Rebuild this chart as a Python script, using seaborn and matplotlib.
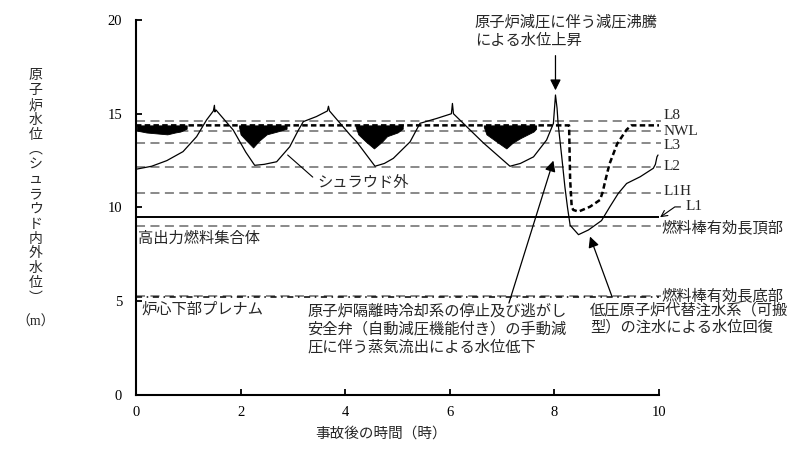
import matplotlib
matplotlib.use("Agg")
import matplotlib.pyplot as plt
import pandas as pd
import seaborn as sns

# ---------------- data ----------------
# shroud outside water level (thin solid line)
outer_t = [0.02, 0.3, 0.59, 0.9, 1.16, 1.35, 1.48, 1.50, 1.51, 1.53, 1.86, 2.10, 2.27,
           2.45, 2.69, 2.94, 3.10, 3.20, 3.45, 3.66, 3.68, 3.70, 4.10, 4.22, 4.57,
           4.75, 4.92, 5.24, 5.43, 5.75, 6.03, 6.05, 6.07, 6.40, 6.64, 7.15,
           7.35, 7.60, 7.85, 7.98, 8.02, 8.05, 8.07, 8.14, 8.20, 8.25, 8.30, 8.46,
           8.65, 8.90, 9.06, 9.22, 9.38, 9.64, 9.89, 9.93, 9.96, 9.98]
outer_v = [12.05, 12.2, 12.5, 12.98, 13.78, 14.67, 15.15, 15.45, 15.1, 15.2, 14.13, 12.95, 12.25,
           12.3, 12.44, 13.24, 14.1, 14.58, 14.85, 15.15, 15.4, 15.15, 13.85, 13.5, 12.2,
           12.35, 12.62, 13.5, 14.49, 14.75, 15.0, 15.55, 15.0, 14.1, 13.45, 12.2,
           12.35, 12.7, 13.6, 14.48, 16.0, 15.3, 14.48, 12.7, 11.1, 10.0, 9.05, 8.55,
           8.8, 9.3, 10.04, 10.75, 11.28, 11.64, 12.09, 12.3, 12.7, 12.8]

# shroud inside water level (thick dashed line)
inner_t = [0.0, 8.28, 8.30, 8.33, 8.36, 8.46, 8.68, 8.87, 8.92, 8.97, 9.05, 9.20, 9.38, 9.47, 10.0]
inner_v = [14.38, 14.38, 11.5, 10.04, 9.87, 9.78, 10.04, 10.4, 10.8, 11.4, 12.3, 13.4, 14.15, 14.38, 14.38]

# fluctuating band of the inside level (envelopes)
bandA_t = [0.02, 0.2, 0.4, 0.6, 0.75, 0.85, 0.97]
bandA_lo = [14.1, 14.0, 13.95, 13.9, 14.0, 14.05, 14.2]
bandB_t = [1.97, 2.0, 2.1, 2.24, 2.35, 2.5, 2.7, 2.88]
bandB_lo = [14.3, 13.9, 13.6, 13.2, 13.55, 13.9, 14.05, 14.2]
bandC_t = [4.2, 4.25, 4.4, 4.55, 4.7, 4.8, 5.0, 5.1]
bandC_lo = [14.3, 13.9, 13.5, 13.15, 13.5, 13.8, 14.0, 14.2]
bandD_t = [6.65, 6.7, 6.9, 7.08, 7.2, 7.35, 7.6, 7.65]
bandD_lo = [14.3, 13.9, 13.5, 13.15, 13.45, 13.7, 14.05, 14.2]
band_top = 14.38

# reference levels (gray dashed)
ref_levels = [14.6, 14.08, 13.42, 12.14, 10.75, 9.0, 5.3]
ref_names = ["L8", "NWL", "L3", "L2", "L1H", "燃料棒有効長頂部", "燃料棒有効長底部"]
l1_level = 9.48
plenum_level = 5.2

x_ticks = [0, 2, 4, 6, 8, 10]
y_ticks = [0, 5, 10, 15, 20]

# ---------------- style ----------------
sns.set_theme(style="ticks")
plt.rcParams['font.family'] = ['Liberation Serif', 'Noto Sans CJK JP']
plt.rcParams['axes.unicode_minus'] = False

fig = plt.figure(figsize=(7.95, 4.55), dpi=100)
ax = fig.add_axes([0.171, 0.132, 0.658, 0.824])

GRAY = "#808080"
# reference lines
for lv in ref_levels:
    ax.plot([0, 10.03], [lv, lv], color=GRAY, lw=1.3, dashes=(5, 3), clip_on=False, zorder=1)
ax.plot([0, 10.0], [l1_level, l1_level], color="black", lw=1.4, zorder=2)
ax.plot([0, 10.0], [plenum_level, plenum_level], color="black", lw=1.1,
        linestyle=(0, (4, 3, 1, 3)), zorder=2)

# bands
for bt, blo in [(bandA_t, bandA_lo), (bandB_t, bandB_lo), (bandC_t, bandC_lo), (bandD_t, bandD_lo)]:
    ax.fill_between(bt, blo, [band_top] * len(bt), color="black", lw=0.6, zorder=3)

df_out = pd.DataFrame({"t": outer_t, "v": outer_v})
df_in = pd.DataFrame({"t": inner_t, "v": inner_v})
sns.lineplot(data=df_out, x="t", y="v", ax=ax, color="black", lw=0.9,
             estimator=None, sort=False, zorder=4)
sns.lineplot(data=df_in, x="t", y="v", ax=ax, color="black", lw=1.8,
             estimator=None, sort=False, zorder=4, linestyle=(0, (2.2, 1.3)))

ax.set_xlim(0, 10)
ax.set_ylim(0, 20)
ax.set_xticks(x_ticks)
ax.set_yticks(y_ticks)
ax.set_xticklabels([str(v) for v in x_ticks])
ax.set_yticklabels([str(v) for v in y_ticks])
ax.tick_params(direction="in", length=4, width=1.3, labelsize=10.5, colors="black")
ax.tick_params(axis="y", pad=10)
ax.tick_params(axis="x", pad=8)
for s in ["top", "right"]:
    ax.spines[s].set_visible(False)
for s in ["left", "bottom"]:
    ax.spines[s].set_linewidth(1.5)
    ax.spines[s].set_color("black")
ax.set_xlabel("")
ax.set_ylabel("")

# level labels
label_y = [14.9, 14.04, 13.3, 12.16, 10.83, 8.9, 5.28]
for name, ly in zip(ref_names, label_y):
    fs = 11 if name.isascii() else 11
    ax.text(10.08 if name.isascii() else 10.05, ly, name, fontsize=fs, va="center", ha="left",
            clip_on=False)
ax.annotate("L1", xy=(10.02, l1_level), xytext=(10.5, 10.03), fontsize=11, va="center",
            ha="left", annotation_clip=False,
            arrowprops=dict(arrowstyle="->", color="black", lw=0.8,
                            connectionstyle="angle,angleA=0,angleB=35,rad=0",
                            shrinkA=1, shrinkB=0))

# in-plot texts
ax.text(0.03, 8.35, "高出力燃料集合体", fontsize=11, va="center", ha="left")
ax.text(0.1, 4.58, "炉心下部プレナム", fontsize=11, va="center", ha="left")
ax.annotate("", xy=(2.9, 12.8), xytext=(3.38, 11.62),
            arrowprops=dict(arrowstyle="-", color="black", lw=0.8, shrinkA=0, shrinkB=0))
ax.text(3.47, 11.3, "シュラウド外", fontsize=11, va="center", ha="left")

arrow_kw = dict(arrowstyle="-|>", color="black", lw=0.9, mutation_scale=16, shrinkA=0, shrinkB=0)
ax.text(6.48, 19.39, "原子炉減圧に伴う減圧沸騰\nによる水位上昇", fontsize=11,
        va="center", ha="left", linespacing=1.45)
ax.annotate("", xy=(8.02, 16.25), xytext=(8.02, 18.1), arrowprops=arrow_kw, annotation_clip=False)

ax.text(3.28, 3.5, "原子炉隔離時冷却系の停止及び逃がし\n安全弁（自動減圧機能付き）の手動減\n圧に伴う蒸気流出による水位低下",
        fontsize=11, va="center", ha="left", linespacing=1.25)
ax.annotate("", xy=(7.98, 12.5), xytext=(7.13, 4.9), arrowprops=arrow_kw)

ax.text(8.68, 3.5 + 0.56, "低圧原子炉代替注水系（可搬\n型）の注水による水位回復",
        fontsize=11, va="center", ha="left", linespacing=1.25)
ax.annotate("", xy=(8.68, 8.45), xytext=(9.1, 5.25), arrowprops=arrow_kw)

# axis titles
ylab = "原子炉水位︵シュラウド内外水位︶"
fig.text(0.045, 0.589, "\n".join(ylab), fontsize=10, ha="center", va="center",
         linespacing=1.18)
fig.text(0.045, 0.293, "（m）", fontsize=10, ha="center", va="center")
fig.text(0.479, 0.048, "事故後の時間（時）", fontsize=10.5, ha="center", va="center")

fig.savefig("out.png", dpi=100)
